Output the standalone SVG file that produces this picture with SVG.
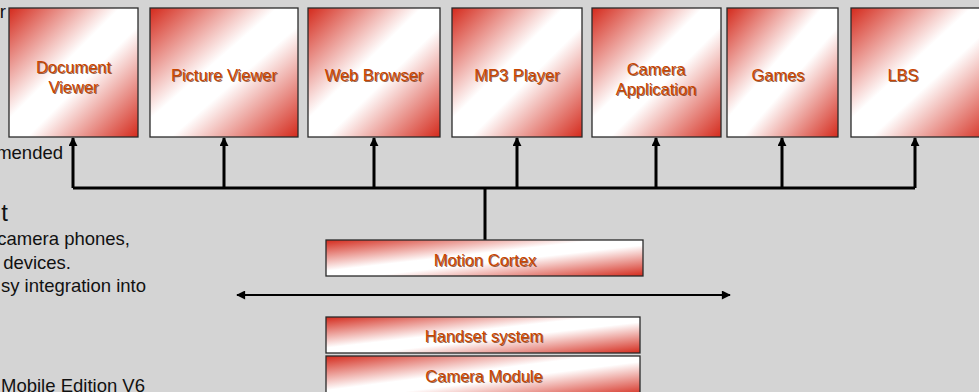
<svg xmlns="http://www.w3.org/2000/svg" width="979" height="392" viewBox="0 0 979 392">
<defs>
<linearGradient id="g" x1="0" y1="0" x2="1" y2="1">
<stop offset="0" stop-color="#d42a1c"/>
<stop offset="0.43" stop-color="#ffffff"/>
<stop offset="0.57" stop-color="#ffffff"/>
<stop offset="1" stop-color="#d42a1c"/>
</linearGradient>
<marker id="ah" viewBox="0 0 10 10" refX="9" refY="5" markerWidth="9" markerHeight="9" markerUnits="userSpaceOnUse" orient="auto">
<path d="M0,0 L10,5 L0,10 z" fill="#000"/>
</marker>
<marker id="ah2" viewBox="0 0 10 10" refX="9" refY="5" markerWidth="10" markerHeight="9" markerUnits="userSpaceOnUse" orient="auto-start-reverse">
<path d="M0,0 L10,5 L0,10 z" fill="#000"/>
</marker>
</defs>
<style>
.box{fill:url(#g);stroke:#2a2a2a;stroke-width:1.3}
.lbl{font-family:"Liberation Sans",Arial,sans-serif;font-size:16.5px;text-anchor:middle;fill:#c94500}
.sh{font-family:"Liberation Sans",Arial,sans-serif;font-size:16.5px;text-anchor:middle;fill:#6a2a08;opacity:0.7}
.side{font-family:"Liberation Sans",Arial,sans-serif;font-size:18.5px;fill:#111;text-anchor:end}
.ln{stroke:#000;stroke-width:3;fill:none}
</style>
<rect x="0" y="0" width="979" height="392" fill="#d4d4d4"/>

<g id="side-text">
<text class="side" x="6" y="18">r</text>
<text class="side" x="63" y="159">mended</text>
<text class="side" x="8" y="221" style="font-size:24px">t</text>
<text class="side" x="130" y="245">camera phones,</text>
<text class="side" x="71" y="269">devices.</text>
<text class="side" x="146" y="292">sy integration into</text>
<text class="side" x="145" y="392">Mobile Edition V6</text>
</g>

<g id="connectors">
<polyline class="ln" points="73,188 915,188"/>
<line class="ln" x1="485" y1="188" x2="485" y2="240"/>
<line class="ln" x1="73" y1="188" x2="73" y2="138" marker-end="url(#ah)"/>
<line class="ln" x1="224" y1="188" x2="224" y2="138" marker-end="url(#ah)"/>
<line class="ln" x1="374" y1="188" x2="374" y2="138" marker-end="url(#ah)"/>
<line class="ln" x1="517" y1="188" x2="517" y2="138" marker-end="url(#ah)"/>
<line class="ln" x1="656" y1="188" x2="656" y2="138" marker-end="url(#ah)"/>
<line class="ln" x1="782" y1="188" x2="782" y2="138" marker-end="url(#ah)"/>
<line class="ln" x1="915" y1="188" x2="915" y2="138" marker-end="url(#ah)"/>
<line x1="237" y1="295" x2="730" y2="295" stroke="#000" stroke-width="2" marker-start="url(#ah2)" marker-end="url(#ah2)"/>
</g>

<g id="doc-viewer">
<rect class="box" x="9" y="8" width="129" height="129"/>
<text class="sh" x="74.5" y="74"><tspan x="74.5">Document</tspan><tspan x="74.5" dy="20">Viewer</tspan></text>
<text class="lbl" x="73.5" y="73"><tspan x="73.5">Document</tspan><tspan x="73.5" dy="20">Viewer</tspan></text>
</g>
<g id="picture-viewer">
<rect class="box" x="150" y="8" width="148" height="129"/>
<text class="sh" x="225" y="82">Picture Viewer</text>
<text class="lbl" x="224" y="81">Picture Viewer</text>
</g>
<g id="web-browser">
<rect class="box" x="308" y="8" width="132" height="129"/>
<text class="sh" x="375" y="82">Web Browser</text>
<text class="lbl" x="374" y="81">Web Browser</text>
</g>
<g id="mp3-player">
<rect class="box" x="452" y="8" width="130" height="129"/>
<text class="sh" x="518" y="82">MP3 Player</text>
<text class="lbl" x="517" y="81">MP3 Player</text>
</g>
<g id="camera-app">
<rect class="box" x="592" y="8" width="129" height="129"/>
<text class="sh" x="657" y="76"><tspan x="657">Camera</tspan><tspan x="657" dy="20">Application</tspan></text>
<text class="lbl" x="656" y="75"><tspan x="656">Camera</tspan><tspan x="656" dy="20">Application</tspan></text>
</g>
<g id="games">
<rect class="box" x="727" y="8" width="111" height="129"/>
<text class="sh" x="779" y="82">Games</text>
<text class="lbl" x="778" y="81">Games</text>
</g>
<g id="lbs">
<rect class="box" x="851" y="8" width="140" height="129"/>
<text class="sh" x="904" y="82">LBS</text>
<text class="lbl" x="903" y="81">LBS</text>
</g>
<g id="motion-cortex">
<rect class="box" x="326" y="240" width="317" height="36"/>
<text class="sh" x="486" y="267">Motion Cortex</text>
<text class="lbl" x="485" y="266">Motion Cortex</text>
</g>
<g id="handset-system">
<rect class="box" x="326" y="317" width="314" height="36"/>
<text class="sh" x="485" y="343">Handset system</text>
<text class="lbl" x="484" y="342">Handset system</text>
</g>
<g id="camera-module">
<rect class="box" x="326" y="356" width="314" height="40"/>
<text class="sh" x="485" y="383">Camera Module</text>
<text class="lbl" x="484" y="382">Camera Module</text>
</g>
</svg>
